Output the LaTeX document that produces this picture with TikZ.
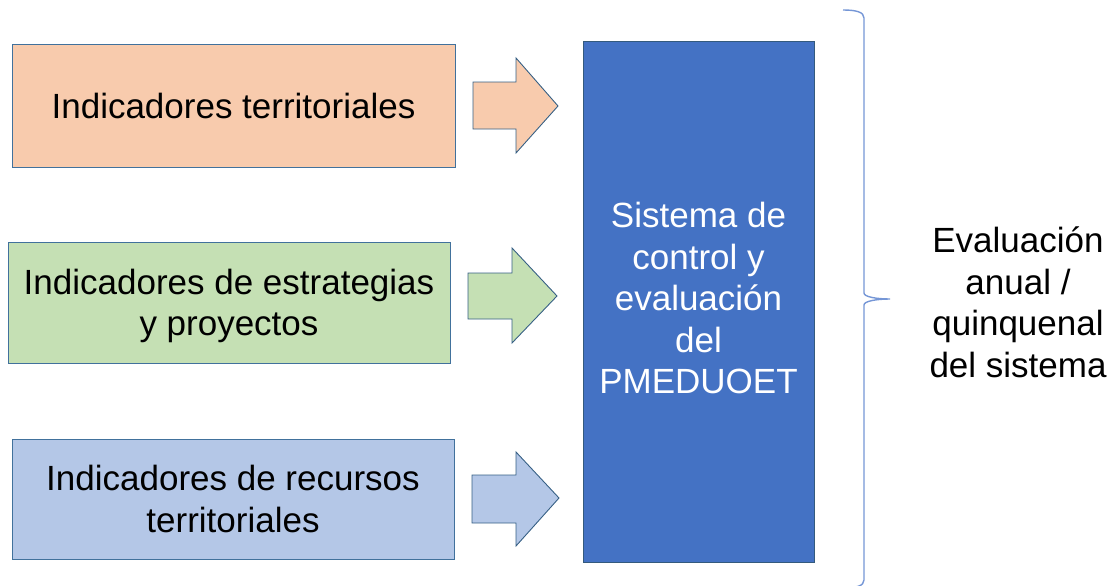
\documentclass[tikz,border=0pt]{standalone}
\usepackage{fontspec}
\setmainfont{Liberation Sans}
\definecolor{orangeF}{HTML}{F8CBAD}
\definecolor{greenF}{HTML}{C5E0B4}
\definecolor{blueF}{HTML}{B4C7E7}
\definecolor{mainF}{HTML}{4472C4}
\definecolor{edgeC}{HTML}{41719C}
\definecolor{braceC}{HTML}{7596D6}
\begin{document}
\begin{tikzpicture}[x=1pt,y=-1pt,
  txt/.style={font=\fontsize{35}{41.5}\selectfont, align=center, inner sep=0pt},
  inbox/.style={txt, draw=edgeC, line width=1pt, rectangle, text depth=0pt},
  bigbox/.style={txt, draw=edgeC!80!black, line width=1pt, fill=mainF, rectangle, text=white, text depth=8pt},
  blockarr/.style={draw=edgeC!85!black, line width=0.9pt, line join=miter},
  bracestyle/.style={draw=braceC, line width=1.4pt}
]
\useasboundingbox (0,0) rectangle (1111,586);

\node[inbox, fill=orangeF, minimum width=443pt, minimum height=122pt] (b1) at (233.5,106) {Indicadores territoriales};
\node[inbox, fill=greenF, minimum width=442pt, minimum height=121pt] (b2) at (229,302.5) {Indicadores de estrategias\\y proyectos};
\node[inbox, fill=blueF, minimum width=442pt, minimum height=120pt] (b3) at (233,499) {Indicadores de recursos\\territoriales};

\node[bigbox, minimum width=231pt, minimum height=520pt] (ctrl) at (698.5,302) {Sistema de\\control y\\evaluación\\del\\PMEDUOET};

\draw[blockarr, fill=orangeF] (473,82) -- (516,82) -- (516,58) -- (558,106) -- (516,153) -- (516,129) -- (473,129) -- cycle;
\draw[blockarr, fill=greenF] (468,273) -- (512,273) -- (512,248) -- (557,296) -- (512,343) -- (512,319) -- (468,319) -- cycle;
\draw[blockarr, fill=blueF] (472,475) -- (516,475) -- (516,452) -- (559,498) -- (516,546) -- (516,523) -- (472,523) -- cycle;

\draw[bracestyle] (843,10) .. controls (856,10) and (864,12) .. (864,18) -- (864,293) .. controls (864,297) and (877,299) .. (890,299) .. controls (877,299) and (864,301) .. (864,305) -- (864,580) .. controls (864,586) and (856,588) .. (843,588);

\node[txt, text depth=0pt] (eval) at (1018,302) {Evaluación\\anual /\\quinquenal\\del sistema};
\end{tikzpicture}
\end{document}
